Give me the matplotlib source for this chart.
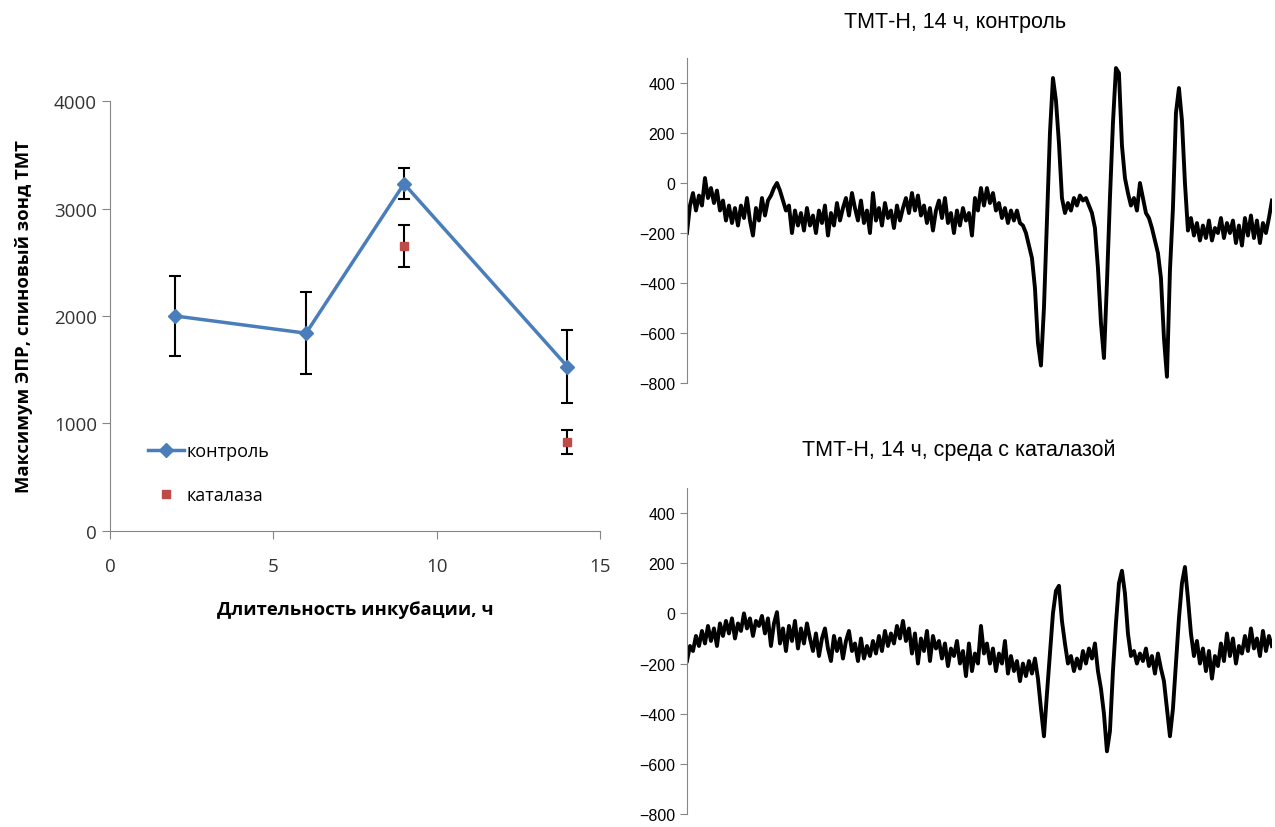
import matplotlib.pyplot as plt
import numpy as np

# left panel: max EPR signal vs incubation time
hours_ctrl = [2, 6, 9, 14]
signal_ctrl = [2000, 1840, 3230, 1530]
err_ctrl = [375, 380, 145, 340]
hours_cat = [9, 14]
signal_cat = [2650, 830]
err_cat = [195, 110]

# right panels: EPR spectra (arbitrary field points)
spec_ctrl = [
    -200, -90, -40, -110, -50, -90, 20, -60, -20, -80, -30, -110, -70, -150, -90, -160,
    -100, -170, -90, -140, -60, -150, -210, -100, -150, -60, -130, -70, -50, -20, 0, -30,
    -70, -110, -90, -200, -110, -170, -120, -190, -100, -170, -130, -200, -110, -160, -90, -210,
    -120, -170, -80, -150, -100, -60, -130, -40, -100, -150, -70, -160, -110, -200, -40, -150,
    -100, -170, -80, -140, -110, -180, -90, -150, -100, -60, -120, -40, -110, -50, -130, -90,
    -160, -100, -190, -110, -70, -140, -60, -160, -120, -200, -110, -170, -100, -150, -120, -210,
    -60, -110, -20, -90, -20, -80, -40, -110, -80, -140, -100, -160, -110, -150, -110, -160,
    -170, -200, -250, -300, -420, -640, -730, -500, -150, 200, 420, 330, 160, -60, -120, -80,
    -110, -60, -90, -50, -70, -60, -90, -120, -180, -340, -560, -700, -400, -60, 240, 460,
    440, 150, 20, -40, -90, -60, -110, 0, -60, -120, -140, -180, -230, -280, -380, -620,
    -775, -350, -100, 280, 380, 250, 0, -190, -140, -210, -160, -230, -170, -220, -150, -230,
    -180, -200, -140, -220, -160, -200, -150, -240, -170, -250, -140, -210, -130, -220, -150, -240,
    -160, -200, -140, -70,
]
spec_cat = [
    -190, -130, -150, -90, -130, -70, -120, -50, -110, -60, -130, -40, -90, -30, -80, -20,
    -100, -40, -70, 0, -60, -20, -90, -30, -50, -10, -80, -20, -130, -40, 5, -120,
    -60, -150, -50, -110, -30, -140, -60, -120, -40, -100, -150, -80, -170, -100, -60, -140,
    -190, -90, -150, -100, -180, -110, -70, -150, -120, -190, -100, -180, -130, -170, -110, -160,
    -90, -150, -70, -130, -80, -120, -50, -100, -30, -110, -60, -160, -80, -200, -100, -150,
    -70, -190, -90, -140, -110, -180, -120, -210, -140, -170, -110, -200, -150, -250, -120, -230,
    -160, -200, -50, -160, -120, -200, -140, -230, -160, -200, -110, -240, -170, -230, -190, -270,
    -200, -250, -190, -240, -180, -260, -380, -490, -320, -160, 0, 90, 110, -30, -120, -200,
    -170, -230, -180, -220, -150, -200, -140, -180, -120, -230, -300, -400, -550, -470, -230, -40,
    120, 170, 80, -80, -170, -150, -200, -160, -190, -140, -210, -170, -240, -160, -220, -270,
    -380, -490, -380, -200, -20, 120, 185, 60, -80, -170, -110, -200, -140, -230, -150, -260,
    -170, -210, -120, -190, -80, -170, -100, -200, -130, -160, -90, -150, -60, -140, -100, -170,
    -70, -150, -90, -130,
]
spec_ticks = [-800, -600, -400, -200, 0, 200, 400]
titles = ["ТМТ-Н, 14 ч, контроль", "ТМТ-Н, 14 ч, среда с каталазой"]

left_font = ["Open Sans", "DejaVu Sans"]
right_font = ["Liberation Sans", "DejaVu Sans"]
axis_gray = "#868686"

fig = plt.figure(figsize=(12.75, 8.28), dpi=100)

ax = fig.add_axes([0.0863, 0.3575, 0.3843, 0.5193])
ax.errorbar(hours_ctrl, signal_ctrl, yerr=err_ctrl, color="#4A7EBB", ecolor="black",
            elinewidth=1.5, capsize=4, capthick=1.5, lw=2.5, marker="D", ms=7,
            label="контроль", zorder=3)
ax.errorbar(hours_cat, signal_cat, yerr=err_cat, color="#BE4B48", ecolor="black",
            elinewidth=1.5, capsize=4, capthick=1.5, ls="none", marker="s", ms=6,
            label="каталаза", zorder=3)
ax.set_xlim(0, 15)
ax.set_ylim(0, 4000)
ax.set_xticks([0, 5, 10, 15])
ax.set_yticks([0, 1000, 2000, 3000, 4000])
for s in ["top", "right"]:
    ax.spines[s].set_visible(False)
for s in ["left", "bottom"]:
    ax.spines[s].set_color(axis_gray)
ax.tick_params(axis="both", direction="out", color=axis_gray, length=6, labelsize=13.5,
               labelcolor="#333333")
ax.tick_params(axis="x", pad=13)
for lab in ax.get_xticklabels() + ax.get_yticklabels():
    lab.set_family(left_font)
ax.set_xlabel("Длительность инкубации, ч", family=left_font, fontsize=13.3,
              fontweight="bold", labelpad=18)
ax.set_ylabel("Максимум ЭПР, спиновый зонд ТМТ", family=left_font, fontsize=13.3,
              fontweight="bold", labelpad=15)
handles, labels = ax.get_legend_handles_labels()
handles = [h[0] for h in handles]
ax.legend(handles, labels, loc="upper left", bbox_to_anchor=(0.045, 0.245), frameon=False,
          prop={"family": left_font, "size": 13}, labelspacing=1.45, handlelength=2.0,
          handletextpad=0.1)

spec_axes = [
    fig.add_axes([0.5388, 0.5362, 0.4588, 0.3925]),
    fig.add_axes([0.5388, 0.0157, 0.4588, 0.3937]),
]
for sax, spec in zip(spec_axes, [spec_ctrl, spec_cat]):
    pts = np.arange(len(spec))
    sax.plot(pts, spec, color="black", lw=2.8)
    sax.set_xlim(0, len(spec) - 1)
    sax.set_ylim(-800, 500)
    sax.set_yticks(spec_ticks)
    sax.set_xticks([])
    for s in ["top", "right", "bottom"]:
        sax.spines[s].set_visible(False)
    sax.spines["left"].set_color(axis_gray)
    sax.tick_params(axis="y", direction="out", color=axis_gray, length=5, labelsize=11.5)
    for lab in sax.get_yticklabels():
        lab.set_family(right_font)

fig.text(0.749, 0.973, titles[0], ha="center", va="center", family=right_font, fontsize=15.5)
fig.text(0.752, 0.4565, titles[1], ha="center", va="center", family=right_font, fontsize=15.5)

fig.savefig("out.png", dpi=100)
